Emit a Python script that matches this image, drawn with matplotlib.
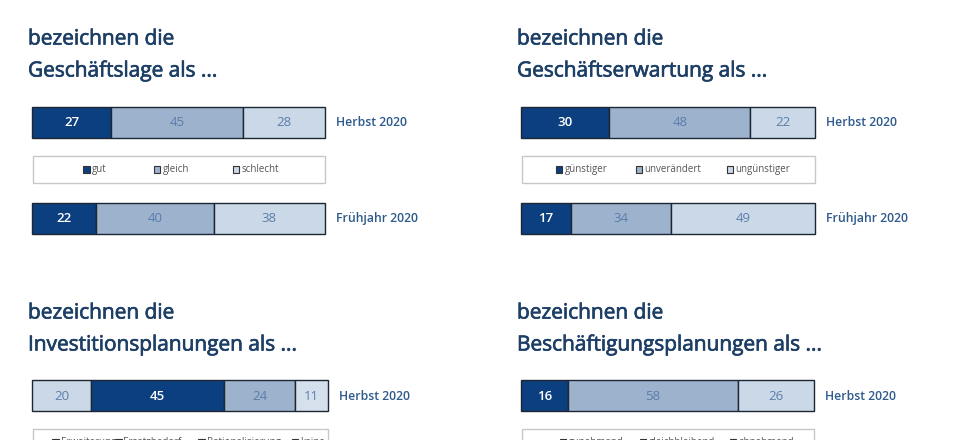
import matplotlib
matplotlib.use("Agg")
import matplotlib.pyplot as plt
import matplotlib.patheffects as pe
from matplotlib.patches import Rectangle

# ---------------- data ----------------
titles = [
    ["bezeichnen die", "Geschäftslage als ..."],
    ["bezeichnen die", "Geschäftserwartung als ..."],
    ["bezeichnen die", "Investitionsplanungen als ..."],
    ["bezeichnen die", "Beschäftigungsplanungen als ..."],
]
periods = ["Herbst 2020", "Frühjahr 2020"]

lage_cats = ["gut", "gleich", "schlecht"]
lage_herbst = [27, 45, 28]
lage_fruehjahr = [22, 40, 38]

erw_cats = ["günstiger", "unverändert", "ungünstiger"]
erw_herbst = [30, 48, 22]
erw_fruehjahr = [17, 34, 49]

inv_cats = ["Erweiterung", "Ersatzbedarf", "Rationalisierung", "keine"]
inv_herbst = [20, 45, 24, 11]

besch_cats = ["zunehmend", "gleichbleibend", "abnehmend"]
besch_herbst = [16, 58, 26]

# ---------------- style ----------------
DARK = "#0c3f80"
MED = "#9cb2cd"
LIGHT = "#cbd8e7"
LIGHTER = "#d6e0ec"
EDGE = "#1c2733"
TITLE_C = "#1d3f66"
LABEL_C = "#2f5a8c"
NUM_C = "#5a7eaa"
FONT = "Open Sans"

W, H = 978, 440
fig = plt.figure(figsize=(W / 100, H / 100), dpi=100)
fig.patch.set_facecolor("white")

thick = [pe.withStroke(linewidth=0.5, foreground=TITLE_C)]

def px_axes(x0, y0, x1, y1):
    return fig.add_axes([x0 / W, 1 - y1 / H, (x1 - x0) / W, (y1 - y0) / H])

def panel(tx, ty, title, bx0, bx1, herbst_y, rows, cats, colors, legend_px, row_labels):
    # titles
    fig.text(tx / W, 1 - ty / H, title[0], fontsize=15, color=TITLE_C,
             family=FONT, va="center", ha="left", fontweight="normal",
             path_effects=thick)
    fig.text(tx / W, 1 - (ty + 32) / H, title[1], fontsize=15, color=TITLE_C,
             family=FONT, va="center", ha="left", fontweight="normal",
             path_effects=thick)
    # axes: bar centres at 0 and 1, 96 px apart, bar height 31 px
    spacing = 96.0
    bh = 31.0 / spacing
    top = herbst_y - 0.5 * 31
    bottom = herbst_y + spacing + 0.5 * 31
    ax = px_axes(bx0, top, bx1, bottom)
    ax.set_xlim(0, 100)
    ax.set_ylim(1 + bh / 2, -bh / 2)
    ax.axis("off")
    for i, vals in enumerate(rows):
        left = 0
        for v, c in zip(vals, colors):
            ax.barh(i, v, left=left, height=bh, color=c, edgecolor=EDGE,
                    linewidth=1.0, clip_on=False)
            tc = "white" if c == DARK else NUM_C
            ax.text(left + v / 2, i, str(v), ha="center", va="center",
                    fontsize=9.5, color=tc, family=FONT, clip_on=False,
                    fontweight="semibold" if c == DARK else "normal")
            left += v
        ax.text(left + 3.7, i, row_labels[i], ha="left", va="center",
                fontsize=8.8, color=LABEL_C, family=FONT,
                fontweight="semibold", clip_on=False)
    # legend box
    ly0 = 0.345
    ly1 = 0.63
    ax.add_patch(Rectangle((0.3, ly0), 99.7, ly1 - ly0, facecolor="white",
                           edgecolor="#c8c8c8", linewidth=1.0, clip_on=False))
    ym = (ly0 + ly1) / 2
    span = bx1 - bx0
    sq_w = 6.5 / span * 100
    sq_h = 7.0 / spacing
    gap = 2.0 / span * 100
    for xpos, cat, c in zip(legend_px, cats, colors):
        xd = (xpos - bx0) / span * 100
        ax.add_patch(Rectangle((xd, ym - sq_h / 2), sq_w, sq_h, facecolor=c,
                               edgecolor="#333333", linewidth=0.8, clip_on=False))
        ax.text(xd + sq_w + gap, ym, cat, ha="left", va="center", fontsize=7,
                color="#555555", family=FONT, clip_on=False)
    return ax

panel(28, 39, titles[0], 32, 325, 122.5, [lage_herbst, lage_fruehjahr],
      lage_cats, [DARK, MED, LIGHT], [83, 154, 233], periods)
panel(517, 39, titles[1], 521, 815, 122.5, [erw_herbst, erw_fruehjahr],
      erw_cats, [DARK, MED, LIGHT], [556, 636, 727], periods)
panel(28, 313, titles[2], 32, 328, 396, [inv_herbst],
      inv_cats, [LIGHT, DARK, MED, LIGHTER], [52, 115, 198, 292], periods[:1])
panel(517, 313, titles[3], 521, 814, 396, [besch_herbst],
      besch_cats, [DARK, MED, LIGHT], [560, 640, 730], periods[:1])

fig.savefig("out.png", dpi=100, facecolor="white")
